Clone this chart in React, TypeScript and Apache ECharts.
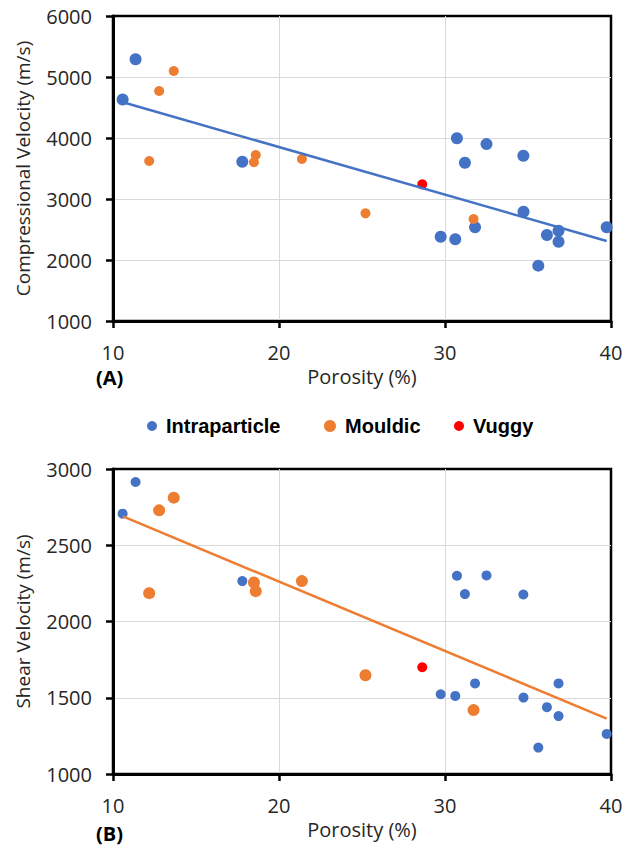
import React, { useEffect, useRef } from "react";
import * as echarts from "echarts";

// Porosity (%) and velocities (m/s)
const intraPorosity = [10.58, 11.36, 17.79, 30.72, 32.5, 31.2, 34.72, 31.81, 29.74, 30.62, 34.73, 36.14, 36.84, 36.84, 35.62, 39.74];
const intraVp = [4630, 5290, 3610, 3995, 3900, 3595, 3710, 2536, 2382, 2339, 2792, 2410, 2480, 2300, 1907, 2536];
const intraVs = [2707, 2915, 2265, 2300, 2302, 2180, 2177, 1594, 1523, 1512, 1501, 1438, 1594, 1380, 1173, 1263];

const mouldPorosity = [12.18, 12.78, 13.66, 18.6, 18.49, 21.38, 25.21, 31.72];
const mouldVp = [3623, 4770, 5098, 3721, 3602, 3656, 2765, 2672];
const mouldVs = [2186, 2729, 2812, 2199, 2256, 2265, 1648, 1419];

const vuggyPorosity = [28.63];
const vuggyVp = [3241];
const vuggyVs = [1700];

const trendPorosity = [10.6, 39.74];
const trendVp = [4585, 2311];
const trendVs = [2689, 1363];

const categories = ["Intraparticle", "Mouldic", "Vuggy"];
const xTicks = { min: 10, max: 40, interval: 10 };
const vpTicks = { min: 1000, max: 6000, interval: 1000 };
const vsTicks = { min: 1000, max: 3000, interval: 500 };

const BLUE = "#4472C4";
const ORANGE = "#ED7D31";
const RED = "#FF0000";
const FRAME = "#000000";
const FONT = "'Open Sans', sans-serif";
const LABEL_COLOR = "#262626";

const zip = (xs: number[], ys: number[]) => xs.map((x, i) => [x, ys[i]]);

function mainAxis(gridIndex: number, t: any, name: string, nameGap: number, isX: boolean) {
  return {
    gridIndex,
    type: "value",
    min: t.min,
    max: t.max,
    interval: t.interval,
    position: isX ? "bottom" : "left",
    name,
    nameLocation: "middle",
    nameGap,
    nameTextStyle: { fontFamily: FONT, fontSize: isX ? 20 : 19, color: LABEL_COLOR },
    axisLine: { show: true, onZero: false, lineStyle: { color: FRAME, width: 3 } },
    axisTick: { show: true, length: 7, lineStyle: { color: FRAME, width: 2.5 } },
    axisLabel: { margin: 21, fontFamily: FONT, fontSize: 20, color: LABEL_COLOR, formatter: (v: number) => String(v) },
    splitLine: { show: true, showMinLine: false, showMaxLine: false, lineStyle: { color: "#d9d9d9", width: 1 } },
  };
}

function legendFor(name: string, left: number, size: number) {
  return {
    data: [name],
    left,
    top: 411,
    icon: "circle",
    itemWidth: size,
    itemHeight: size,
    textStyle: {
      fontFamily: "'Liberation Sans', Arial, sans-serif",
      fontWeight: "bold",
      fontSize: 20,
      color: "#000",
      padding: [0, 0, 0, 4],
    },
    selectedMode: false,
  };
}

export default function App() {
  const ref = useRef<HTMLDivElement>(null);
  useEffect(() => {
    if (!ref.current) return;
    const chart = echarts.init(ref.current, undefined, { renderer: "svg" });
    chart.setOption({
      animation: false,
      backgroundColor: "#fff",
      grid: [
        { left: 113, right: 23, top: 16, height: 305, show: true, borderColor: FRAME, borderWidth: 2.5 },
        { left: 113, right: 23, top: 469, height: 305, show: true, borderColor: FRAME, borderWidth: 2.5 },
      ],
      legend: [legendFor(categories[0], 142, 10), legendFor(categories[1], 319, 12), legendFor(categories[2], 449, 10)],
      xAxis: [
        mainAxis(0, xTicks, "Porosity (%)", 45, true),
        mainAxis(1, xTicks, "Porosity (%)", 45, true),
      ],
      yAxis: [
        mainAxis(0, vpTicks, "Compressional Velocity (m/s)", 81, false),
        mainAxis(1, vsTicks, "Shear Velocity (m/s)", 81, false),
      ],
      graphic: [
        { type: "text", left: 96, top: 367, style: { text: "(A)", fontFamily: FONT, fontWeight: "bold", fontSize: 20, fill: "#000" } },
        { type: "text", left: 96, top: 823, style: { text: "(B)", fontFamily: FONT, fontWeight: "bold", fontSize: 20, fill: "#000" } },
      ],
      series: [
        { name: "trendVp", type: "line", xAxisIndex: 0, yAxisIndex: 0, data: zip(trendPorosity, trendVp), showSymbol: false, symbol: "none", lineStyle: { color: BLUE, width: 2.5 } },
        { name: categories[0], type: "scatter", xAxisIndex: 0, yAxisIndex: 0, data: zip(intraPorosity, intraVp), symbolSize: 12, itemStyle: { color: BLUE, opacity: 1 } },
        { name: categories[1], type: "scatter", xAxisIndex: 0, yAxisIndex: 0, data: zip(mouldPorosity, mouldVp), symbolSize: 10, itemStyle: { color: ORANGE, opacity: 1 } },
        { name: categories[2], type: "scatter", xAxisIndex: 0, yAxisIndex: 0, data: zip(vuggyPorosity, vuggyVp), symbolSize: 10, itemStyle: { color: RED, opacity: 1 } },
        { name: "trendVs", type: "line", xAxisIndex: 1, yAxisIndex: 1, data: zip(trendPorosity, trendVs), showSymbol: false, symbol: "none", lineStyle: { color: ORANGE, width: 2.5 } },
        { name: categories[0], type: "scatter", xAxisIndex: 1, yAxisIndex: 1, data: zip(intraPorosity, intraVs), symbolSize: 10, itemStyle: { color: BLUE, opacity: 1 } },
        { name: categories[1], type: "scatter", xAxisIndex: 1, yAxisIndex: 1, data: zip(mouldPorosity, mouldVs), symbolSize: 12, itemStyle: { color: ORANGE, opacity: 1 } },
        { name: categories[2], type: "scatter", xAxisIndex: 1, yAxisIndex: 1, data: zip(vuggyPorosity, vuggyVs), symbolSize: 10, itemStyle: { color: RED, opacity: 1 } },
      ],
    });
    return () => chart.dispose();
  }, []);
  return <div ref={ref} style={{ position: "absolute", left: 0, top: 0, width: 634, height: 855 }} />;
}
